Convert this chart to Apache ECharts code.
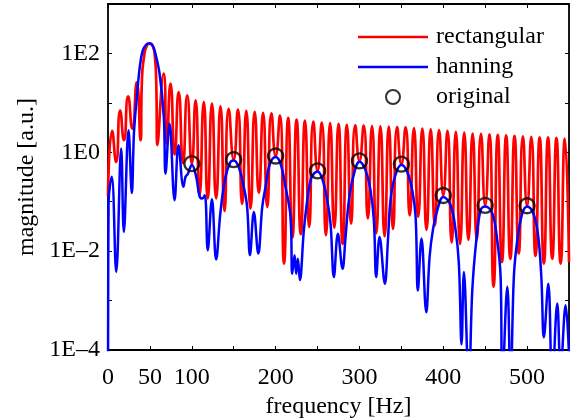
<!DOCTYPE html>
<html>
<head>
<meta charset="utf-8">
<script src="https://cdn.jsdelivr.net/npm/echarts@6/dist/echarts.min.js"></script>
<style>
  html, body { margin: 0; padding: 0; background: #fff; }
  #chart { width: 572px; height: 418px; }
</style>
</head>
<body>
<div id="chart"></div>
<script>
// rectangular window spectrum: lobe peaks and nulls
const rectFreq = [0, 5, 9.7, 14.5, 19, 24, 29, 34.3, 38.8, 40.5, 43, 46, 50, 53.5, 56, 57.5, 59,
  66.5, 70, 74.6, 79.5, 84.3, 89.5, 94.5, 100, 104.5, 109.2, 114.3, 119, 124, 129, 134.2, 139, 144, 150,
  155, 160, 165, 170, 175, 180, 185, 190, 195, 200, 205, 210, 215, 220, 225, 230, 235, 240, 245, 250,
  255, 260, 265, 270, 275, 280, 285, 290, 295, 300, 305, 310, 315, 320, 325, 330, 335, 340, 345, 350,
  355, 360, 365, 370, 375, 380, 385, 390, 395, 400, 405, 410, 415, 420, 425, 430, 435, 440, 445, 450,
  455, 460, 465, 470, 475, 480, 485, 490, 495, 500, 505, 510, 515, 520, 525, 530, 535, 540, 545, 550]
const rectMag = [0.13, 2.7, 0.64, 7.0, 1.75, 13.5, 3.0, 26, 1.75, 30, 85, 140, 158, 140, 85, 28, 1.4,
  39, 1.5, 24.5, 0.9, 16.5, 0.6, 14.2, 0.59, 11.3, 0.135, 10.4, 0.117, 9.7, 0.117, 8.5, 0.065, 7.6, 0.71,
  7.3, 0.09, 6.9, 0.073, 6.6, 0.15, 6.3, 0.078, 6.1, 0.84, 5.5, 0.0056, 5.0, 0.019, 4.6, 0.022, 4.4, 0.031, 4.2, 0.42,
  4.0, 0.021, 3.9, 0.03, 3.75, 0.014, 3.6, 0.036, 3.5, 0.67, 3.45, 0.046, 3.4, 0.023, 3.35, 0.02, 3.3, 0.028, 3.25, 0.575,
  3.2, 0.053, 3.1, 0.05, 3.0, 0.027, 2.9, 0.033, 2.8, 0.134, 2.7, 0.015, 2.6, 0.014, 2.5, 0.017, 2.4, 0.017, 2.35, 0.085,
  2.3, 0.0019, 2.25, 0.006, 2.2, 0.007, 2.15, 0.009, 2.1, 0.083, 2.05, 0.008, 2.0, 0.0056, 2.0, 0.007, 1.95, 0.0056, 1.9, 0.006]

// hanning window spectrum
const hannFreq = [0, 0.7, 4.5, 9.8, 15.7, 18.9, 24.5, 28.4, 31, 34.4, 38.4, 41.6, 45.5, 49, 52.5, 55.5,
  61.5, 66.6, 68.6, 73.4, 79.4, 84.1, 90, 92.5, 95, 97.6, 100, 105.2, 109.2, 112.4, 115.5, 119, 124, 129,
  134.3, 140.2, 146.2, 150, 156, 162, 166, 169.4, 174, 179.3, 184, 188, 193, 200, 205.8, 211.8, 217.8,
  219.8, 222.6, 224.5, 226.5, 228.9, 233.7, 237.7, 241.6, 245.6, 250, 255.6, 261.6, 265.5, 269.5, 274.3,
  279.8, 283.4, 287.4, 292.6, 300, 307.3, 313.2, 317.2, 320, 324, 330.3, 334, 337, 342.3, 350, 357, 363,
  367, 369.7, 374, 379.7, 383.7, 387.6, 392.8, 400, 408.7, 414.7, 418.6, 421.8, 424.6, 430.5, 434.6,
  439.4, 444.5, 450, 458.5, 464.4, 468.4, 470.4, 476.4, 480.3, 484.2, 488.3, 494.3, 500, 507.4, 512.9,
  517, 520, 525.3, 530, 536, 540, 546, 550]
const hannMag = [0.00002, 0.1, 0.32, 0.0038, 1.19, 0.0245, 2.78, 0.15, 2.5, 13.1, 62, 116, 150, 160, 150, 116,
  39, 5.2, 0.37, 3.8, 0.107, 1.39, 0.2, 0.32, 0.36, 0.47, 0.56, 0.32, 0.13, 0.116, 0.135, 0.0104, 0.112, 0.0068,
  0.065, 0.32, 0.64, 0.68, 0.5, 0.2, 0.078, 0.0083, 0.062, 0.009, 0.078, 0.2, 0.57, 0.8, 0.59, 0.2, 0.049,
  0.0035, 0.0083, 0.0035, 0.007, 0.0026, 0.027, 0.107, 0.27, 0.37, 0.41, 0.29, 0.107, 0.036, 0.003, 0.0226,
  0.0044, 0.0193, 0.107, 0.32, 0.64, 0.43, 0.17, 0.042, 0.003, 0.0193, 0.0022, 0.0166, 0.107, 0.32, 0.56, 0.4, 0.17,
  0.049, 0.0016, 0.018, 0.00058, 0.0077, 0.0266, 0.067, 0.125, 0.085, 0.0266, 0.0056, 0.00013, 0.0038, 0.00002, 0.0016,
  0.0166, 0.067, 0.08, 0.058, 0.0166, 0.003, 0.00002, 0.0019, 0.00002, 0.003, 0.0166, 0.058, 0.08, 0.058, 0.0226,
  0.003, 0.00018, 0.0022, 0.00002, 0.00087, 0.00004, 0.0008, 0.00008]

// original harmonic amplitudes
const origFreq = [100, 150, 200, 250, 300, 350, 400, 450, 500]
const origMag = [0.59, 0.71, 0.84, 0.42, 0.67, 0.575, 0.134, 0.0845, 0.083]

const xTickLabels = [0, 50, 100, 200, 300, 400, 500]
const yLabelExps = [-4, -2, 0, 2]

const font = 'Liberation Serif, Times New Roman, serif'
const pairs = (xs, ys) => xs.map((x, i) => [x, ys[i]])
const lineIcon = 'path://M0,0H70V2.6H0Z'

const chart = echarts.init(document.getElementById('chart'))

const tickStyle = { show: true, inside: true, length: 4, lineStyle: { color: '#000', width: 1 } }
const lineStyle = { show: true, onZero: false, lineStyle: { color: '#000', width: 1.8 } }

chart.setOption({
  animation: false,
  grid: { left: 108, right: 3, top: 4, bottom: 68, containLabel: false, outerBoundsMode: 'none' },
  legend: {
    orient: 'vertical',
    left: 353,
    top: 20,
    itemWidth: 70,
    itemHeight: 14,
    itemGap: 6,
    textStyle: { fontFamily: font, fontSize: 24, color: '#000', padding: [0, 0, 0, 3] },
    data: [
      { name: 'rectangular', icon: lineIcon },
      { name: 'hanning', icon: lineIcon },
      'original'
    ]
  },
  xAxis: [
    {
      type: 'value',
      min: 0,
      max: 550,
      interval: 50,
      axisLine: lineStyle,
      axisTick: tickStyle,
      splitLine: { show: false },
      axisLabel: {
        color: '#000',
        fontFamily: font,
        fontSize: 24,
        margin: 16,
        formatter: v => xTickLabels.includes(v) ? String(v) : ''
      },
      name: 'frequency [Hz]',
      nameLocation: 'middle',
      nameGap: 38,
      nameTextStyle: { fontFamily: font, fontSize: 24, color: '#000' }
    },
    {
      type: 'value',
      position: 'top',
      min: 0,
      max: 550,
      interval: 50,
      axisLine: lineStyle,
      axisTick: tickStyle,
      axisLabel: { show: false },
      splitLine: { show: false }
    }
  ],
  yAxis: [
    {
      type: 'log',
      logBase: 10,
      min: 1e-4,
      max: 1e3,
      axisLine: lineStyle,
      axisTick: tickStyle,
      splitLine: { show: false },
      minorTick: { show: false },
      axisLabel: {
        color: '#000',
        fontFamily: font,
        fontSize: 24,
        margin: 8,
        formatter: v => {
          const e = Math.round(Math.log10(v))
          if (!yLabelExps.includes(e)) return ''
          return '1E' + (e < 0 ? '\u2013' + (-e) : e)
        }
      },
      name: 'magnitude [a.u.]',
      nameLocation: 'middle',
      nameGap: 67,
      nameTextStyle: { fontFamily: font, fontSize: 24, color: '#000' }
    },
    {
      type: 'log',
      logBase: 10,
      position: 'right',
      min: 1e-4,
      max: 1e3,
      axisLine: lineStyle,
      axisTick: tickStyle,
      axisLabel: { show: false },
      splitLine: { show: false }
    }
  ],
  series: [
    {
      name: 'rectangular',
      type: 'line',
      data: pairs(rectFreq, rectMag),
      symbol: 'none',
      smooth: 0.6,
      clip: true,
      lineStyle: { color: '#ff0000', width: 2.7 },
      itemStyle: { color: '#ff0000' }
    },
    {
      name: 'hanning',
      type: 'line',
      data: pairs(hannFreq, hannMag),
      symbol: 'none',
      smooth: 0.4,
      clip: true,
      lineStyle: { color: '#0000ff', width: 2.5 },
      itemStyle: { color: '#0000ff' }
    },
    {
      name: 'original',
      type: 'scatter',
      data: pairs(origFreq, origMag),
      symbol: 'circle',
      symbolSize: 15,
      itemStyle: { color: 'transparent', borderColor: '#000', borderWidth: 2.4 },
      z: 5
    }
  ]
})
</script>
</body>
</html>
